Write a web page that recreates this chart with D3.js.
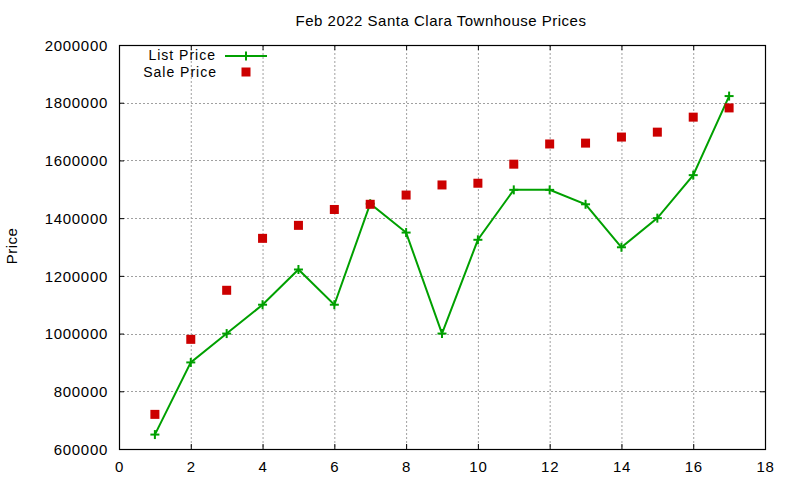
<!DOCTYPE html>
<html>
<head>
<meta charset="utf-8">
<script src="https://cdn.jsdelivr.net/npm/d3@7"></script>
<style>
  html, body { margin: 0; padding: 0; background: #fff; }
  svg text { font-family: "Liberation Sans", Arial, sans-serif; font-size: 15px; fill: #000; }
</style>
</head>
<body>
<svg id="chart" width="800" height="480"></svg>
<script>
// Feb 2022 Santa Clara townhouse prices, one point per sale index
const saleIndex = [1, 2, 3, 4, 5, 6, 7, 8, 9, 10, 11, 12, 13, 14, 15, 16, 17];
const listPrice = [650000, 900000, 1000000, 1100000, 1222000, 1100000, 1450000, 1350000,
                   1000000, 1325000, 1498000, 1498000, 1448000, 1299000, 1400000, 1549000, 1823000];
const salePrice = [720000, 980000, 1150000, 1330000, 1375000, 1430000, 1448000, 1480000,
                   1515000, 1521000, 1587000, 1657000, 1660000, 1681000, 1698000, 1750000, 1782000];
const xTicks = [0, 2, 4, 6, 8, 10, 12, 14, 16, 18];
const yTicks = [600000, 800000, 1000000, 1200000, 1400000, 1600000, 1800000, 2000000];

const GREEN = '#00a000', RED = '#cc0000';
const L = 119, R = 765, T = 45, B = 449;
const TICK = 5;

const svg = d3.select('#chart');
const x = d3.scaleLinear().domain([0, 18]).range([L, R]);
const y = d3.scaleLinear().domain([600000, 2000000]).range([B, T]);

// grid (dotted, gnuplot style)
const grid = svg.append('g').attr('stroke', '#a0a0a0').attr('stroke-width', 1)
  .attr('stroke-dasharray', '2,2');
xTicks.slice(1, -1).forEach(t => {
  grid.append('line').attr('x1', x(t) + 0.5).attr('x2', x(t) + 0.5)
    .attr('y1', T).attr('y2', B);
});
yTicks.slice(1, -1).forEach(t => {
  grid.append('line').attr('y1', Math.round(y(t)) + 0.5).attr('y2', Math.round(y(t)) + 0.5)
    .attr('x1', L).attr('x2', R);
});

// axes: ticks point inward, mirrored on top/right
const fmt = d3.format('d');
const axBottom = svg.append('g').attr('transform', `translate(0,${B})`)
  .call(d3.axisBottom(x).tickValues(xTicks).tickSizeInner(-TICK).tickSizeOuter(0).tickPadding(10).tickFormat(fmt));
const axTop = svg.append('g').attr('transform', `translate(0,${T})`)
  .call(d3.axisTop(x).tickValues(xTicks).tickSizeInner(-TICK).tickSizeOuter(0).tickFormat(''));
const axLeft = svg.append('g').attr('transform', `translate(${L},0)`)
  .call(d3.axisLeft(y).tickValues(yTicks).tickSizeInner(-TICK).tickSizeOuter(0).tickPadding(11).tickFormat(fmt));
const axRight = svg.append('g').attr('transform', `translate(${R},0)`)
  .call(d3.axisRight(y).tickValues(yTicks).tickSizeInner(-TICK).tickSizeOuter(0).tickFormat(''));

[axBottom, axTop, axLeft, axRight].forEach(g => {
  g.select('.domain').remove();
  g.selectAll('line').attr('stroke', '#000').attr('stroke-width', 1);
  g.selectAll('text').attr('font-family', null).attr('font-size', null)
    .style('letter-spacing', '0.7px').attr('fill', '#000');
});
axLeft.selectAll('text').attr('dy', '0.35em');
axBottom.selectAll('text').attr('dy', '0.85em');

// border
svg.append('rect').attr('x', L + 0.5).attr('y', T + 0.5)
  .attr('width', R - L).attr('height', B - T)
  .attr('fill', 'none').attr('stroke', '#000').attr('stroke-width', 1.2);

// list price line + crosses
const listData = saleIndex.map((d, i) => ({ x: d, v: listPrice[i] }));
const saleData = saleIndex.map((d, i) => ({ x: d, v: salePrice[i] }));

svg.append('path').datum(listData)
  .attr('fill', 'none').attr('stroke', GREEN).attr('stroke-width', 2)
  .attr('d', d3.line().x(d => x(d.x)).y(d => y(d.v)));

const cross = svg.append('g').attr('stroke', GREEN).attr('stroke-width', 2);
listData.forEach(d => {
  const cx = x(d.x), cy = y(d.v);
  cross.append('line').attr('x1', cx - 4.5).attr('x2', cx + 4.5).attr('y1', cy).attr('y2', cy);
  cross.append('line').attr('x1', cx).attr('x2', cx).attr('y1', cy - 4.5).attr('y2', cy + 4.5);
});

// sale price squares
svg.append('g').selectAll('rect').data(saleData).join('rect')
  .attr('x', d => x(d.x) - 4.5).attr('y', d => y(d.v) - 4.5)
  .attr('width', 9).attr('height', 9).attr('fill', RED);

// legend
const legend = svg.append('g');
legend.append('text').attr('x', 216).attr('y', 60).attr('text-anchor', 'end')
  .style('font-size', '14px').style('letter-spacing', '1px').text('List Price');
legend.append('line').attr('x1', 225).attr('x2', 267).attr('y1', 56).attr('y2', 56)
  .attr('stroke', GREEN).attr('stroke-width', 2);
legend.append('line').attr('x1', 246).attr('x2', 246).attr('y1', 51.5).attr('y2', 60.5)
  .attr('stroke', GREEN).attr('stroke-width', 2);
legend.append('text').attr('x', 217).attr('y', 76.5).attr('text-anchor', 'end')
  .style('font-size', '14px').style('letter-spacing', '1px').text('Sale Price');
legend.append('rect').attr('x', 241.5).attr('y', 67.5).attr('width', 9).attr('height', 9).attr('fill', RED);

// title and y label
svg.append('text').attr('x', 441).attr('y', 26).attr('text-anchor', 'middle')
  .style('letter-spacing', '0.5px').text('Feb 2022 Santa Clara Townhouse Prices');
svg.append('text').attr('transform', 'translate(17,246) rotate(-90)')
  .attr('text-anchor', 'middle').style('letter-spacing', '0.5px').text('Price');
</script>
</body>
</html>
